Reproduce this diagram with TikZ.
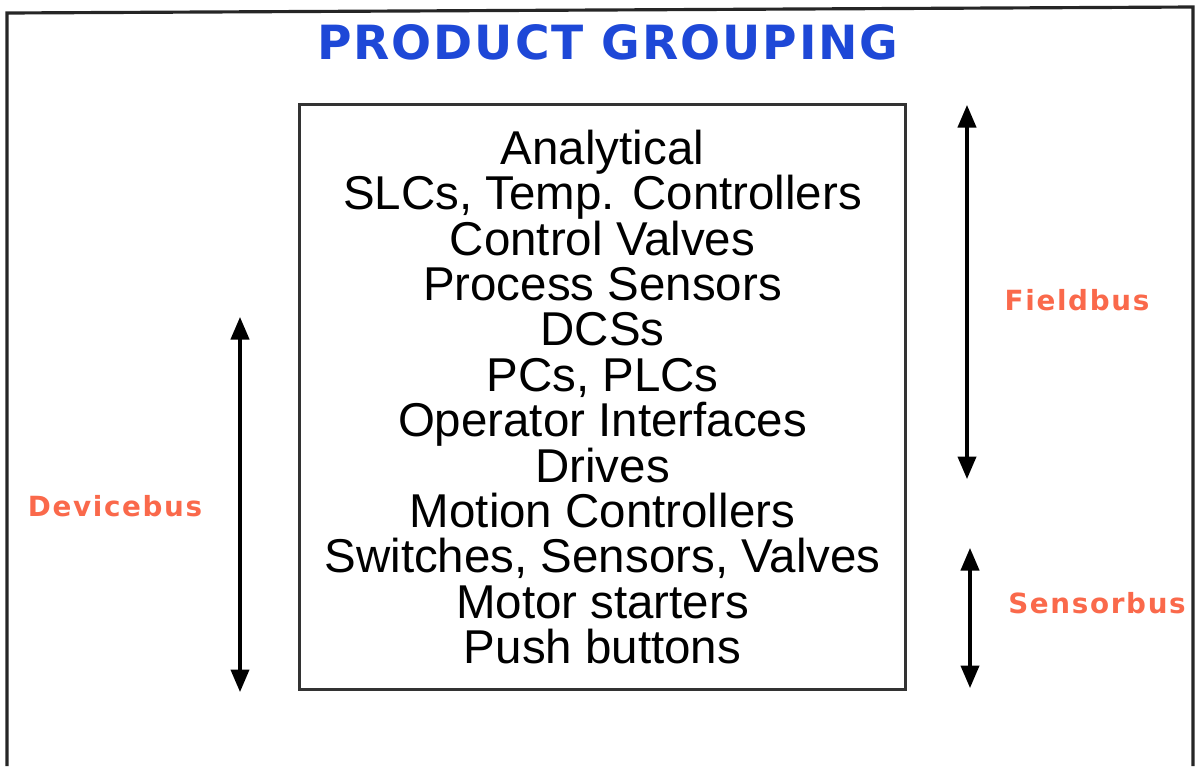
\documentclass[tikz,border=0pt]{standalone}
\usepackage{fontspec}
\setmainfont{Liberation Sans}
\newfontfamily\headfont[LetterSpace=4]{DejaVu Sans}
\newfontfamily\busfont[LetterSpace=6]{DejaVu Sans}
\usepackage{xcolor}
\usepackage{tikz}
\usetikzlibrary{arrows.meta,positioning}
\definecolor{headblue}{RGB}{30,72,215}
\definecolor{busred}{RGB}{250,105,75}

\begin{document}
\begin{tikzpicture}[
    x=0.01cm, y=-0.01cm,
    >={Triangle[width=5.2pt,length=6.4pt]},
    frame/.style={line width=0.9pt, black!85},
    groupbox/.style={draw=black!80, line width=0.9pt, minimum width=6.05cm, minimum height=5.84cm, align=center, font=\fontsize{13.5}{12.9}\selectfont, inner sep=0pt},
    busarrow/.style={<->, line width=0.9pt},
    buslabel/.style={font=\busfont\bfseries\fontsize{7.9}{9}\selectfont, text=busred},
    heading/.style={font=\headfont\bfseries\fontsize{13.4}{15}\selectfont, text=headblue}
]
\useasboundingbox (0,0) rectangle (1200,766);

% outer frame, open at the bottom
\draw[frame] (7,766) -- (7,13) -- (1193,7) -- (1193,766);

\node[heading] (title) at (608,42) {PRODUCT GROUPING};

\node[groupbox] (items) at (602.5,397) {Analytical\\SLCs, Temp. Controllers\\Control Valves\\Process Sensors\\DCSs\\PCs, PLCs\\Operator Interfaces\\Drives\\Motion Controllers\\Switches, Sensors, Valves\\Motor starters\\Push buttons};

% bus ranges
\coordinate (fb top) at (967,105);
\coordinate (fb bot) at (967,479);
\coordinate (sb top) at (970,548);
\coordinate (sb bot) at (970,688);
\coordinate (db top) at (240,317);
\coordinate (db bot) at (240,692);

\draw[busarrow] (fb top) -- (fb bot);
\draw[busarrow] (sb top) -- (sb bot);
\draw[busarrow] (db top) -- (db bot);

\node[buslabel] (fieldbus) at (1077,300) {Fieldbus};
\node[buslabel] (sensorbus) at (1097,603) {Sensorbus};
\node[buslabel] (devicebus) at (115,506) {Devicebus};
\end{tikzpicture}
\end{document}
